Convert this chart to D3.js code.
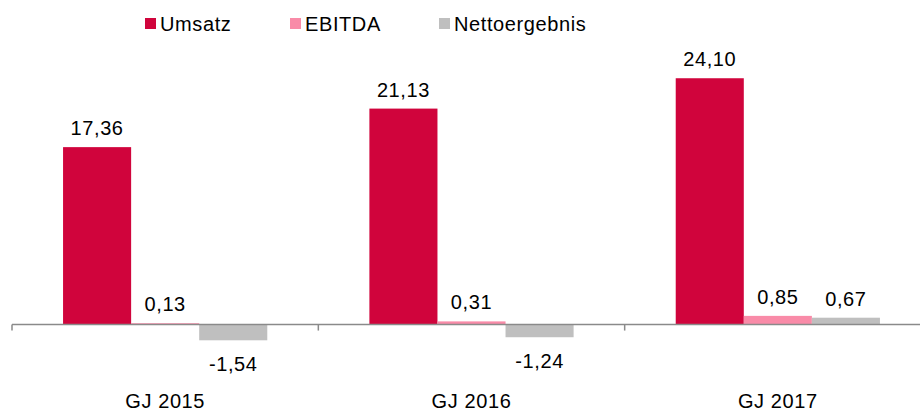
<!DOCTYPE html>
<html>
<head>
<meta charset="utf-8">
<script src="https://cdn.jsdelivr.net/npm/d3@7"></script>
<style>
  body { margin: 0; background: #fff; }
  svg { display: block; font-family: "Liberation Sans", Arial, Helvetica, sans-serif; }
</style>
</head>
<body>
<svg id="chart" width="920" height="412"></svg>
<script>
// data
const years = ["GJ 2015", "GJ 2016", "GJ 2017"];
const series = ["Umsatz", "EBITDA", "Nettoergebnis"];
const umsatz = [17.36, 21.13, 24.10];
const ebitda = [0.13, 0.31, 0.85];
const netto = [-1.54, -1.24, 0.67];
const colors = ["#d0043c", "#f98ba8", "#bfbfbf"];

const values = [umsatz, ebitda, netto];
const rows = [];
years.forEach(function(y, i) {
  series.forEach(function(s, j) {
    rows.push({ year: y, series: s, value: values[j][i], color: colors[j] });
  });
});

const svg = d3.select("#chart");
const FONT = 20;
const SPACING = 0.6;

const x0 = d3.scaleBand().domain(years).range([12, 931]).padding(0);
const x1 = d3.scaleBand().domain(series).range([0, x0.bandwidth()])
  .paddingInner(0).paddingOuter(0.75);
const y = d3.scaleLinear().domain([-2, 27]).range([345, 48.6]);

function fmt(v) {
  return v.toFixed(2).replace(".", ",");
}

// bars
svg.append("g").selectAll("rect")
  .data(rows)
  .enter()
  .append("rect")
  .attr("x", function(d) { return x0(d.year) + x1(d.series); })
  .attr("width", x1.bandwidth())
  .attr("y", function(d) { return y(Math.max(0, d.value)); })
  .attr("height", function(d) { return Math.abs(y(d.value) - y(0)); })
  .attr("fill", function(d) { return d.color; });

// axis
const axis = svg.append("g").attr("transform", "translate(0," + y(0) + ")");
axis.append("line")
  .attr("x1", 12).attr("x2", 920)
  .attr("y1", 0).attr("y2", 0)
  .attr("stroke", "#8a8a8a").attr("stroke-width", 1.5);
axis.selectAll("line.tick")
  .data(years.concat(["end"]))
  .enter()
  .append("line")
  .attr("class", "tick")
  .attr("x1", function(d, i) { return x0.range()[0] + i * x0.step(); })
  .attr("x2", function(d, i) { return x0.range()[0] + i * x0.step(); })
  .attr("y1", 0).attr("y2", 6)
  .attr("stroke", "#8a8a8a").attr("stroke-width", 1.5);

// value labels
svg.append("g").selectAll("text")
  .data(rows)
  .enter()
  .append("text")
  .text(function(d) { return fmt(d.value); })
  .attr("x", function(d) { return x0(d.year) + x1(d.series) + x1.bandwidth() / 2; })
  .attr("y", function(d) {
    return d.value >= 0 ? y(d.value) - 12 : y(d.value) + 31;
  })
  .attr("text-anchor", "middle")
  .attr("font-size", FONT)
  .attr("letter-spacing", SPACING)
  .attr("fill", "#000");

// category labels
svg.append("g").selectAll("text")
  .data(years)
  .enter()
  .append("text")
  .text(function(d) { return d; })
  .attr("x", function(d) { return x0(d) + x0.bandwidth() / 2; })
  .attr("y", 408)
  .attr("text-anchor", "middle")
  .attr("font-size", FONT)
  .attr("letter-spacing", SPACING)
  .attr("fill", "#000");

// legend
const legendX = [145, 290, 439];
const legend = svg.append("g").selectAll("g")
  .data(series)
  .enter()
  .append("g")
  .attr("transform", function(d, i) { return "translate(" + legendX[i] + ",18)"; });
legend.append("rect")
  .attr("width", 11).attr("height", 11)
  .attr("fill", function(d, i) { return colors[i]; });
legend.append("text")
  .text(function(d) { return d; })
  .attr("x", 15)
  .attr("y", 12.5)
  .attr("font-size", FONT)
  .attr("letter-spacing", SPACING)
  .attr("fill", "#000");
</script>
</body>
</html>
